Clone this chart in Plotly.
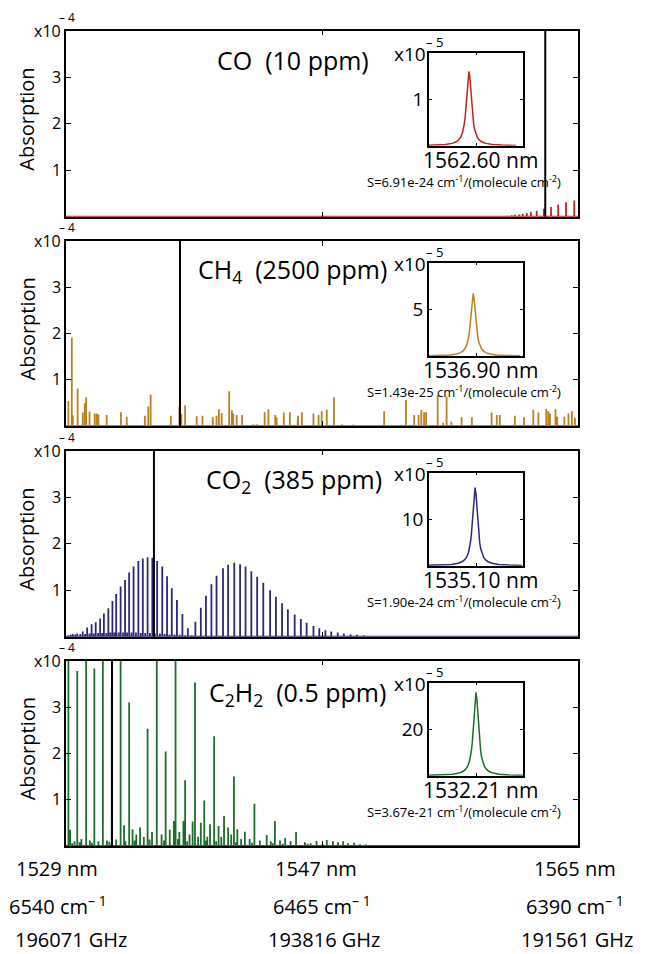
import plotly.graph_objects as go

# page body has an 8px margin: the figure is sized to fill the rest of the window
PAGE_MARGIN = 8
W, H = 646 - PAGE_MARGIN, 954 - PAGE_MARGIN


def fx(px):
    return (px - PAGE_MARGIN) / W


def fy(py):
    return 1 - (py - PAGE_MARGIN) / H


FONT = "Open Sans"

# ---------------- axis ----------------
WN_LEFT, WN_RIGHT = 6540, 6390          # cm-1, plotted left -> right
MID_WN = 6465
bottom_nm = ["1529 nm", "1547 nm", "1565 nm"]
bottom_cm = ["6540 cm<sup>– 1</sup>", "6465 cm<sup>– 1</sup>", "6390 cm<sup>– 1</sup>"]
bottom_ghz = ["196071 GHz", "193816 GHz", "191561 GHz"]

# ---------------- gases ----------------
titles = ["CO  (10 ppm)", "CH<sub>4</sub>  (2500 ppm)",
          "CO<sub>2</sub>  (385 ppm)", "C<sub>2</sub>H<sub>2</sub>  (0.5 ppm)"]
colors = ["#c0221c", "#b8821e", "#2a2878", "#1c6e28"]
target_nm = [1562.60, 1536.90, 1535.10, 1532.21]
target_S = ["6.91e-24", "1.43e-25", "1.90e-24", "3.67e-21"]

# line lists: wavenumber (cm-1) and absorption (x1e-4)
co_wn = [6413.4, 6412.1, 6410.9, 6409.4, 6408.5, 6407.2, 6406.2, 6405.0, 6403.8,
         6402.1, 6400.0, 6397.9, 6395.8, 6393.5, 6391.1]
co_abs = [0.01, 0.015, 0.02, 0.03, 0.04, 0.05, 0.065, 0.08, 0.10,
          0.13, 0.17, 0.21, 0.26, 0.31, 0.35]

ch4_wn = [6539.3, 6538.3, 6538.0, 6536.6, 6535.1, 6534.5, 6534.1, 6533.1, 6531.6,
          6531.0, 6530.5, 6528.1, 6523.9, 6522.2, 6516.9, 6515.9, 6515.2, 6509.3,
          6506.8, 6506.2, 6505.1, 6501.7, 6500.0, 6497.0, 6495.9, 6495.2, 6494.4,
          6492.2, 6491.4, 6491.0, 6490.0, 6488.4, 6485.1, 6484.1, 6481.8, 6480.7,
          6478.7, 6478.3, 6476.2, 6474.4, 6472.2, 6472.0, 6470.9, 6467.5, 6466.0,
          6465.1, 6463.6, 6461.5, 6459.2, 6455.8, 6446.8, 6440.4, 6438.0, 6436.7,
          6435.9, 6435.1, 6434.5, 6431.1, 6429.5, 6428.5, 6427.1, 6424.1, 6421.1,
          6415.3, 6413.8, 6412.9, 6408.5, 6405.8, 6403.1, 6401.6, 6399.3, 6398.7,
          6398.2, 6396.6, 6396.1, 6394.0, 6392.8, 6391.8, 6390.9]
ch4_abs = [0.54, 1.91, 0.23, 0.81, 0.29, 0.49, 0.62, 0.31, 0.27,
           0.27, 0.25, 0.24, 0.30, 0.20, 0.22, 0.42, 0.68, 0.22,
           0.43, 0.26, 0.45, 0.21, 0.22, 0.19, 0.22, 0.36, 0.28,
           0.75, 0.34, 0.27, 0.24, 0.24, 0.04, 0.04, 0.30, 0.36,
           0.24, 0.19, 0.29, 0.30, 0.09, 0.22, 0.30, 0.27, 0.24,
           0.32, 0.35, 0.62, 0.04, 0.03, 0.32, 0.56, 0.24, 0.24,
           0.35, 0.30, 0.30, 0.67, 0.07, 0.63, 0.09, 0.19, 0.19,
           0.29, 0.24, 0.24, 0.22, 0.19, 0.35, 0.29, 0.37, 0.32,
           0.27, 0.36, 0.20, 0.20, 0.27, 0.32, 0.18]

co2_wn = [6539.3, 6538.0, 6536.7, 6535.1, 6533.8, 6532.5, 6531.3, 6530.0, 6528.9,
          6527.6, 6526.4, 6525.3, 6524.0, 6522.7, 6521.5, 6520.2, 6518.8, 6517.5,
          6516.1, 6514.7, 6513.3, 6511.8, 6510.4, 6509.0, 6507.5, 6505.9, 6504.3,
          6502.1, 6500.5, 6499.0, 6497.4, 6495.9, 6494.0, 6492.5, 6490.7, 6489.0,
          6487.4, 6485.7, 6484.0, 6482.2, 6480.2, 6478.5, 6476.7, 6475.0, 6473.0,
          6471.2, 6469.5, 6467.5, 6465.8, 6464.0, 6462.3, 6460.4, 6458.6, 6456.6,
          6454.7, 6452.8, 6450.9, 6448.9,
          # weaker hot-band lines
          6538.6, 6537.3, 6535.8, 6534.4, 6533.1, 6531.9, 6530.6, 6529.4, 6528.2,
          6527.0, 6525.8, 6524.6, 6523.3, 6522.1, 6520.8, 6519.5, 6518.1, 6516.8,
          6515.4, 6514.0, 6512.5, 6511.1, 6509.7, 6508.2, 6506.7, 6505.1, 6503.2]
co2_abs = [0.03, 0.06, 0.07, 0.11, 0.20, 0.27, 0.31, 0.39, 0.50,
           0.61, 0.77, 0.92, 1.08, 1.22, 1.38, 1.51, 1.63, 1.68,
           1.71, 1.70, 1.63, 1.51, 1.30, 1.04, 0.79, 0.49, 0.18,
           0.32, 0.62, 0.88, 1.13, 1.31, 1.47, 1.55, 1.59, 1.56,
           1.51, 1.41, 1.29, 1.16, 1.00, 0.86, 0.72, 0.59, 0.48,
           0.38, 0.30, 0.23, 0.18, 0.14, 0.11, 0.09, 0.07, 0.05,
           0.04, 0.03, 0.02, 0.015,
           0.04, 0.05, 0.06, 0.06, 0.07, 0.07, 0.08, 0.08, 0.08,
           0.09, 0.09, 0.09, 0.09, 0.09, 0.09, 0.09, 0.08, 0.08,
           0.08, 0.07, 0.07, 0.06, 0.05, 0.05, 0.04, 0.03, 0.03]

c2h2_wn = [6539.3, 6538.8, 6536.7, 6534.1, 6531.7, 6529.2, 6526.6, 6524.0, 6523.0,
           6521.5, 6520.5, 6518.3, 6516.1, 6513.4, 6510.8, 6508.4, 6507.9, 6505.6,
           6505.1, 6502.9, 6502.2, 6500.5, 6499.5, 6497.8, 6496.6, 6495.3, 6493.7,
           6492.5, 6490.8, 6489.8, 6487.6, 6484.8, 6481.2, 6478.8, 6475.8, 6472.6,
           6466.6, 6463.6, 6461.8, 6460.3, 6458.8, 6457.4, 6455.6, 6453.9, 6452.1,
           # weak background lines
           6537.5, 6535.5, 6533.0, 6530.5, 6528.0, 6525.3, 6519.4, 6517.2, 6514.8,
           6512.0, 6509.6, 6506.8, 6503.8, 6501.3, 6498.6, 6494.5, 6491.6, 6488.7,
           6486.2, 6483.2, 6480.0, 6477.3, 6474.2, 6470.0, 6468.3,
           6538.2, 6536.0, 6532.4, 6527.3, 6522.6, 6519.9, 6515.5, 6511.3, 6507.2,
           6504.5, 6499.0, 6496.0, 6490.2, 6485.5, 6479.4, 6476.5, 6469.2, 6464.8]
c2h2_abs = [5.0, 0.35, 3.78, 4.6, 3.83, 5.2, 3.4, 4.8, 0.45,
            3.10, 0.36, 0.40, 2.53, 4.3, 2.04, 0.54, 4.1, 0.54,
            1.42, 0.53, 3.53, 0.50, 0.98, 0.47, 2.37, 0.43, 0.65,
            0.40, 1.50, 0.36, 0.31, 0.91, 0.24, 0.54, 0.17, 0.30,
            0.11, 0.13, 0.10, 0.08, 0.10, 0.06, 0.07, 0.04, 0.03,
            0.10, 0.15, 0.12, 0.10, 0.12, 0.14, 0.25, 0.20, 0.30,
            0.25, 0.35, 0.30, 0.25, 0.20, 0.20, 0.20, 0.25, 0.15,
            0.15, 0.12, 0.10, 0.12, 0.10, 0.08, 0.06,
            0.06, 0.08, 0.07, 0.09, 0.10, 0.12, 0.14, 0.12, 0.15,
            0.10, 0.12, 0.10, 0.08, 0.07, 0.06, 0.05, 0.05, 0.04]

line_wn = [co_wn, ch4_wn, co2_wn, c2h2_wn]
line_abs = [co_abs, ch4_abs, co2_abs, c2h2_abs]

# inset: profile of the target line (offset in % of inset width, relative height)
profile_offset = [-50, -35, -25, -18, -14, -11, -9, -7, -6, -5, -4, -3, -2, -1, 0,
                  1, 2, 3, 4, 5, 6, 7, 9, 11, 14, 18, 25, 35, 50]
profile_shape = [0.004, 0.008, 0.016, 0.031, 0.05, 0.078, 0.11, 0.17, 0.22, 0.29, 0.39,
                 0.53, 0.72, 0.91, 1.0, 0.91, 0.72, 0.53, 0.39, 0.29, 0.22, 0.17, 0.11,
                 0.078, 0.05, 0.031, 0.016, 0.008, 0.004]
inset_peak = [1.6, 6.7, 16.8, 35.9]        # x1e-5
inset_ymax = [2, 10, 20, 40]
inset_tick = [1, 5, 10, 20]
inset_shift = [-7.5, -3, -1, 0]

# ---------------- geometry (px in the 646x954 window) ----------------
panel_left, panel_right = 66, 578
panel_tops = [30.7, 241, 450.7, 660.7]
panel_bots = [216.7, 426, 636.7, 846]
inset_left, inset_right = 429, 523
inset_tops = [52.7, 262.7, 472.7, 682.7]
inset_bots = [145.7, 356, 565.7, 775.7]
title_pos = [(293, 60), (292, 270), (294, 480), (297, 693)]

fig = go.Figure()
layout = dict(
    width=W, height=H, margin=dict(l=0, r=0, t=0, b=0),
    paper_bgcolor="white", plot_bgcolor="rgba(0,0,0,0)",
    showlegend=False, font=dict(family=FONT, color="black"),
)
shapes = []
annotations = []

for i in range(4):
    n = i + 1
    xa, ya = ("x" if n == 1 else f"x{n}"), ("y" if n == 1 else f"y{n}")
    # stick path with baseline
    pairs = sorted(zip(line_wn[i], line_abs[i]), key=lambda p: -p[0])
    xs, ys = [WN_LEFT + 1], [0]
    for w, a in pairs:
        xs += [w, w, w]
        ys += [0, a, 0]
    xs.append(WN_RIGHT - 1)
    ys.append(0)
    fig.add_trace(go.Scatter(x=xs, y=ys, mode="lines", xaxis=xa, yaxis=ya,
                             line=dict(color=colors[i], width=1.8), hoverinfo="skip"))
    layout[f"xaxis{n if n > 1 else ''}"] = dict(
        domain=[fx(panel_left), fx(panel_right)], range=[WN_LEFT, WN_RIGHT],
        anchor=ya, tickvals=[MID_WN], showticklabels=False, ticks="inside",
        ticklen=5, tickwidth=1.2, tickcolor="black",
        showline=True, linecolor="black", linewidth=1.5, mirror="ticks",
        showgrid=False, zeroline=False)
    layout[f"yaxis{n if n > 1 else ''}"] = dict(
        domain=[fy(panel_bots[i]), fy(panel_tops[i])], range=[0, 4],
        anchor=xa, tickvals=[1, 2, 3], ticktext=["1", "2", "3"], ticks="inside",
        ticklen=5, tickwidth=1.2, tickcolor="black", tickfont=dict(size=16),
        showline=True, linecolor="black", linewidth=1.5, mirror="ticks",
        showgrid=False, zeroline=False)
    # target line marker
    shapes.append(dict(type="line", xref=xa, yref=f"{ya} domain",
                       x0=1e7 / target_nm[i], x1=1e7 / target_nm[i], y0=0, y1=1,
                       line=dict(color="black", width=2)))
    # labels
    cy = (panel_tops[i] + panel_bots[i]) / 2 - 4
    annotations.append(dict(text="Absorption", x=fx(27), y=fy(cy), xref="paper", yref="paper",
                            textangle=-90, showarrow=False, font=dict(size=20),
                            xanchor="center", yanchor="middle"))
    annotations.append(dict(text="x10", x=fx(63), y=fy(panel_tops[i] + 0.5), xref="paper",
                            yref="paper", showarrow=False, font=dict(size=16),
                            xanchor="right", yanchor="middle"))
    annotations.append(dict(text="– 4", x=fx(67), y=fy(panel_tops[i] - 13), xref="paper",
                            yref="paper", showarrow=False, font=dict(size=12),
                            xanchor="center", yanchor="middle"))
    annotations.append(dict(text=titles[i], x=fx(title_pos[i][0]), y=fy(title_pos[i][1]),
                            xref="paper", yref="paper", showarrow=False,
                            font=dict(size=25), xanchor="center", yanchor="middle"))

    # inset
    m = n + 4
    ixa, iya = f"x{m}", f"y{m}"
    fig.add_trace(go.Scatter(x=[o + inset_shift[i] for o in profile_offset],
                             y=[s * inset_peak[i] for s in profile_shape],
                             mode="lines", xaxis=ixa, yaxis=iya,
                             line=dict(color=colors[i], width=1.5), hoverinfo="skip"))
    layout[f"xaxis{m}"] = dict(
        domain=[fx(inset_left), fx(inset_right)], range=[-50, 50], anchor=iya,
        tickvals=[0], showticklabels=False, ticks="inside", ticklen=3,
        tickcolor="black", showline=True, linecolor="black", linewidth=1.5,
        mirror="ticks", showgrid=False, zeroline=False)
    layout[f"yaxis{m}"] = dict(
        domain=[fy(inset_bots[i]), fy(inset_tops[i])], range=[0, inset_ymax[i]],
        anchor=ixa, tickvals=[inset_tick[i]], ticks="inside", ticklen=3,
        tickcolor="black", tickfont=dict(size=19),
        showline=True, linecolor="black", linewidth=1.5, mirror="ticks",
        showgrid=False, zeroline=False)
    annotations.append(dict(text="x10", x=fx(428), y=fy(inset_tops[i] + 1.5), xref="paper",
                            yref="paper", showarrow=False, font=dict(size=19),
                            xanchor="right", yanchor="middle"))
    annotations.append(dict(text="– 5", x=fx(434), y=fy(inset_tops[i] - 11), xref="paper",
                            yref="paper", showarrow=False, font=dict(size=13),
                            xanchor="center", yanchor="middle"))
    annotations.append(dict(text=f"{target_nm[i]:.2f} nm", x=fx(480),
                            y=fy(inset_bots[i] + 14.5), xref="paper", yref="paper",
                            showarrow=False, font=dict(size=21),
                            xanchor="center", yanchor="middle"))
    annotations.append(dict(text=f"S={target_S[i]} cm<sup>-1</sup>/(molecule cm<sup>-2</sup>)",
                            x=fx(464), y=fy(inset_bots[i] + 36), xref="paper",
                            yref="paper", showarrow=False, font=dict(size=13),
                            xanchor="center", yanchor="middle"))

# bottom scale labels
for labels, ypx, xs_px in [
        (bottom_nm, 868, [57, 316, 575]),
        (bottom_cm, 905, [58, 322, 575]),
        (bottom_ghz, 939, [71, 324, 577])]:
    for lab, xp in zip(labels, xs_px):
        annotations.append(dict(text=lab, x=fx(xp), y=fy(ypx), xref="paper", yref="paper",
                                showarrow=False, font=dict(size=20),
                                xanchor="center", yanchor="middle"))

layout["shapes"] = shapes
layout["annotations"] = annotations
fig.update_layout(**layout)
fig.write_html("out.html")
